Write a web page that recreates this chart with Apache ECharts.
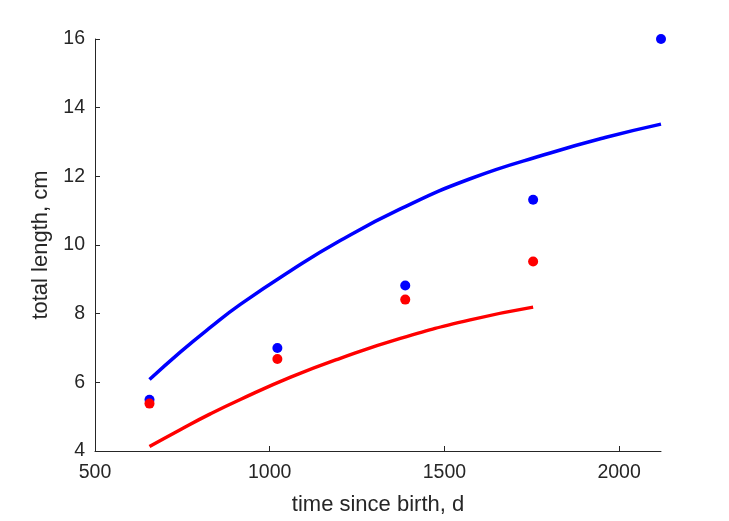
<!DOCTYPE html>
<html>
<head>
<meta charset="utf-8">
<script src="https://cdn.jsdelivr.net/npm/echarts@6/dist/echarts.min.js"></script>
<style>html,body{margin:0;padding:0;background:#fff;}#c{width:729px;height:521px;}</style>
</head>
<body>
<div id="c"></div>
<script>
var obsDays = [656, 1022, 1388, 1754, 2120];
var femaleObs = [5.49, 7.0, 8.82, 11.32, 16.0];
var maleObs = [5.38, 6.68, 8.41, 9.52];
var femaleFitDays = [656, 744, 830, 916, 1060, 1202, 1374, 1574, 1803, 1960, 2120];
var femaleFit = [6.08, 6.88, 7.6, 8.27, 9.25, 10.13, 11.05, 11.93, 12.68, 13.13, 13.52];
var maleFitDays = [656, 744, 830, 916, 1060, 1202, 1374, 1574, 1754];
var maleFit = [4.13, 4.62, 5.08, 5.5, 6.15, 6.7, 7.28, 7.82, 8.19];
var xTicks = [500, 1000, 1500, 2000];
var yTicks = [4, 6, 8, 10, 12, 14, 16];

function pairs(xs, ys) { return ys.map(function (v, i) { return [xs[i], v]; }); }

var chart = echarts.init(document.getElementById('c'));
var font = 'Liberation Sans, Arial, Helvetica, sans-serif';
chart.setOption({
  animation: false,
  grid: { left: 95, right: 68, top: 39, bottom: 68, containLabel: false },
  xAxis: {
    type: 'value', min: 500, max: 2120, interval: 500,
    name: 'time since birth, d', nameLocation: 'middle', nameGap: 43,
    nameTextStyle: { color: '#262626', fontSize: 22, fontFamily: font },
    axisLine: { show: true, lineStyle: { color: '#262626', width: 1 } },
    axisTick: { show: true, inside: true, length: 5, lineStyle: { color: '#262626' } },
    axisLabel: { color: '#262626', fontSize: 19.5, fontFamily: font, margin: 12,
      showMaxLabel: false,
      formatter: function (v) { return xTicks.indexOf(v) >= 0 ? String(v) : ''; } },
    splitLine: { show: false }
  },
  yAxis: {
    type: 'value', min: 4, max: 16, interval: 2,
    name: 'total length, cm', nameLocation: 'middle', nameGap: 40,
    nameTextStyle: { color: '#262626', fontSize: 22, fontFamily: font },
    axisLine: { show: true, lineStyle: { color: '#262626', width: 1 } },
    axisTick: { show: true, inside: true, length: 5, lineStyle: { color: '#262626' } },
    axisLabel: { color: '#262626', fontSize: 19.5, fontFamily: font, margin: 10,
      formatter: function (v) { return yTicks.indexOf(v) >= 0 ? String(v) : ''; } },
    splitLine: { show: false }
  },
  series: [
    { type: 'line', data: pairs(femaleFitDays, femaleFit), smooth: 0.5, showSymbol: false,
      lineStyle: { color: '#0000ff', width: 3.5 }, z: 2 },
    { type: 'line', data: pairs(maleFitDays, maleFit), smooth: 0.5, showSymbol: false,
      lineStyle: { color: '#ff0000', width: 3.5 }, z: 2 },
    { type: 'scatter', data: pairs(obsDays, femaleObs), symbolSize: 10,
      itemStyle: { color: '#0000ff', opacity: 1 }, z: 3 },
    { type: 'scatter', data: pairs(obsDays, maleObs), symbolSize: 10,
      itemStyle: { color: '#ff0000', opacity: 1 }, z: 3 }
  ]
});
</script>
</body>
</html>
